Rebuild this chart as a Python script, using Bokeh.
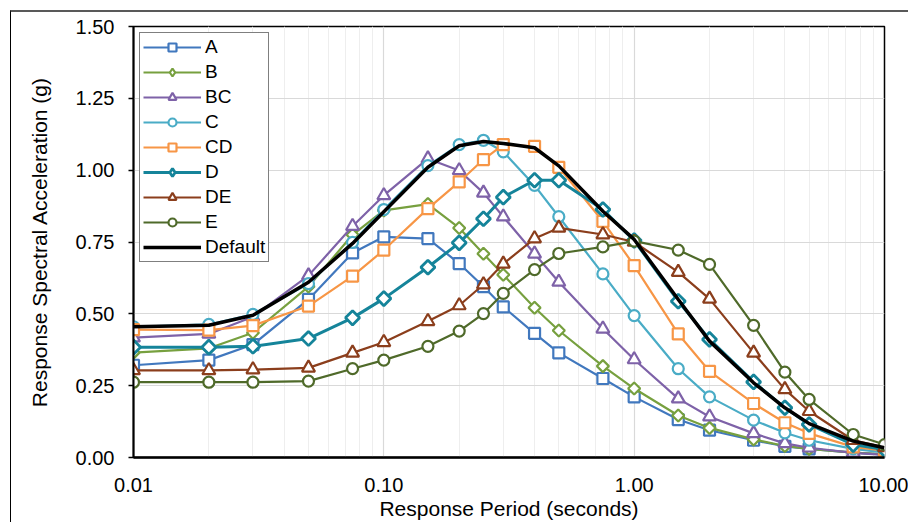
import math
from bokeh.plotting import figure
from bokeh.models import Range1d, FixedTicker, SingleIntervalTicker, PrintfTickFormatter, InlineStyleSheet
from bokeh.embed import file_html
from bokeh.resources import INLINE

periods = [0.01, 0.02, 0.03, 0.05, 0.075, 0.1, 0.15, 0.2, 0.25, 0.3, 0.4, 0.5,
           0.75, 1.0, 1.5, 2.0, 3.0, 4.0, 5.0, 7.5, 10.0]

site_A = [0.321, 0.339, 0.393, 0.550, 0.712, 0.768, 0.762, 0.675, 0.595, 0.524, 0.432, 0.364,
          0.275, 0.211, 0.132, 0.095, 0.060, 0.039, 0.030, 0.017, 0.011]
site_B = [0.365, 0.380, 0.434, 0.595, 0.775, 0.860, 0.882, 0.799, 0.709, 0.636, 0.521, 0.442,
          0.318, 0.240, 0.146, 0.103, 0.063, 0.040, 0.030, 0.017, 0.011]
site_BC = [0.417, 0.430, 0.490, 0.633, 0.805, 0.912, 1.040, 0.999, 0.921, 0.838, 0.709, 0.611,
           0.448, 0.341, 0.205, 0.142, 0.084, 0.049, 0.034, 0.016, 0.009]
site_C = [0.455, 0.463, 0.498, 0.605, 0.749, 0.863, 1.016, 1.089, 1.104, 1.064, 0.947, 0.838,
          0.639, 0.494, 0.309, 0.211, 0.130, 0.086, 0.060, 0.030, 0.018]
site_CD = [0.445, 0.443, 0.459, 0.527, 0.631, 0.722, 0.866, 0.959, 1.037, 1.089, 1.083, 1.010,
           0.822, 0.668, 0.430, 0.300, 0.188, 0.121, 0.084, 0.037, 0.024]
site_D = [0.384, 0.384, 0.387, 0.414, 0.486, 0.553, 0.662, 0.747, 0.831, 0.906, 0.965, 0.965,
          0.863, 0.755, 0.544, 0.411, 0.263, 0.173, 0.115, 0.045, 0.028]
site_DE = [0.303, 0.303, 0.306, 0.312, 0.364, 0.401, 0.474, 0.529, 0.602, 0.674, 0.762, 0.799,
           0.776, 0.750, 0.645, 0.552, 0.364, 0.237, 0.161, 0.060, 0.035]
site_E = [0.262, 0.262, 0.262, 0.266, 0.309, 0.339, 0.387, 0.440, 0.501, 0.571, 0.654, 0.710,
          0.733, 0.753, 0.722, 0.672, 0.460, 0.297, 0.202, 0.080, 0.045]
default = [0.455, 0.460, 0.495, 0.610, 0.745, 0.855, 1.010, 1.085, 1.100, 1.093, 1.078, 1.015,
           0.857, 0.759, 0.550, 0.405, 0.260, 0.173, 0.118, 0.057, 0.034]

x_ticks = [0.01, 0.1, 1.0, 10.0]
y_ticks_interval = 0.25

FONT = "Liberation Sans"

frame_css = InlineStyleSheet(css="""
:host { position: relative; }
:host::after {
  content: "";
  position: absolute;
  left: 10px; top: 10px; right: -20px; bottom: -20px;
  border-top: 2px solid #595959;
  border-left: 1px solid #000000;
  pointer-events: none;
  z-index: 100;
}
""")

p = figure(width=908, height=522, x_axis_type="log",
           x_range=Range1d(0.01, 10), y_range=Range1d(0, 1.5),
           output_backend="svg", toolbar_location=None,
           min_border_left=133, min_border_right=24, min_border_top=26, min_border_bottom=64)
p.stylesheets = [frame_css]

p.outline_line_color = "black"
p.outline_line_width = 1.5
p.background_fill_color = "white"
p.border_fill_color = "white"

# axes
p.xaxis.ticker = FixedTicker(ticks=x_ticks,
                             minor_ticks=[m * 10.0 ** e for e in (-2, -1, 0) for m in range(2, 10)])
p.xaxis.formatter = PrintfTickFormatter(format="%.2f")
p.yaxis.ticker = SingleIntervalTicker(interval=y_ticks_interval, num_minor_ticks=0)
p.yaxis.formatter = PrintfTickFormatter(format="%.2f")

for ax in (p.xaxis[0], p.yaxis[0]):
    ax.major_label_text_font = FONT
    ax.major_label_text_font_size = "20px"
    ax.major_label_text_color = "black"
    ax.axis_label_text_font = FONT
    ax.axis_label_text_font_size = "21px"
    ax.axis_label_text_font_style = "normal"
    ax.axis_label_text_color = "black"
    ax.axis_line_color = "black"
    ax.minor_tick_line_color = None

p.xaxis.axis_label = "Response Period (seconds)"
p.yaxis.axis_label = "Response Spectral Acceleration (g)"
p.xaxis.axis_line_width = 2.5
p.yaxis.axis_line_width = 2
p.xaxis.major_tick_out = 0
p.xaxis.major_tick_in = 0
p.xaxis.major_label_standoff = 16
p.xaxis.axis_label_standoff = 2
p.yaxis.major_tick_out = 5
p.yaxis.major_tick_in = 0
p.yaxis.major_tick_line_width = 1.5
p.yaxis.major_label_standoff = 14
p.yaxis.axis_label_standoff = 22

# grid
p.xgrid.grid_line_color = "#d9d9d9"
p.xgrid.minor_grid_line_color = "#eeeeee"
p.ygrid.grid_line_color = "#d9d9d9"
p.xgrid.grid_line_width = 1.2
p.ygrid.grid_line_width = 1.2

ROT = math.pi / 4
# name, values, colour, marker, size, line width, drawn as diamond (rotated square)
series = [
    ("A", site_A, "#4178BE", "square", 11, 2.2, False),
    ("B", site_B, "#77A03F", "square", 8.5, 2.2, True),
    ("BC", site_BC, "#7E62A8", "triangle", 13, 2.2, False),
    ("C", site_C, "#4AACC6", "circle", 11, 2.2, False),
    ("CD", site_CD, "#F79646", "square", 11, 2.2, False),
    ("D", site_D, "#15849A", "square", 10, 3.0, True),
    ("DE", site_DE, "#8B3E1C", "triangle", 13, 2.2, False),
    ("E", site_E, "#4F6A2A", "circle", 11, 2.2, False),
]

for name, vals, color, marker, size, lw, rotated in series:
    mlw = 2.2 if lw < 3 else 2.8
    p.line(periods, vals, line_color=color, line_width=lw, legend_label=name)
    if rotated:
        # diamonds on the chart: rotated squares
        p.scatter(periods, vals, marker="square", size=size, angle=ROT, line_color=color,
                  line_width=mlw, fill_color="white")
        # legend-only diamond glyph (zero size on the chart)
        p.scatter(periods, vals, marker="diamond", size=0, line_color=color,
                  line_width=mlw, fill_color="white", legend_label=name)
    else:
        p.scatter(periods, vals, marker=marker, size=size, line_color=color,
                  line_width=mlw, fill_color="white", legend_label=name)

p.line(periods, default, line_color="black", line_width=3.5, legend_label="Default")

lg = p.legend[0]
lg.location = "top_left"
lg.margin = 6
lg.padding = 3
lg.spacing = 3
lg.glyph_width = 58
lg.glyph_height = 20
lg.label_height = 20
lg.label_standoff = 4
lg.label_text_font = FONT
lg.label_text_font_size = "19px"
lg.label_text_color = "black"
lg.border_line_color = "black"
lg.border_line_width = 1.5
lg.background_fill_color = "white"
lg.background_fill_alpha = 1.0

open("out.html", "w").write(file_html(p, INLINE))
